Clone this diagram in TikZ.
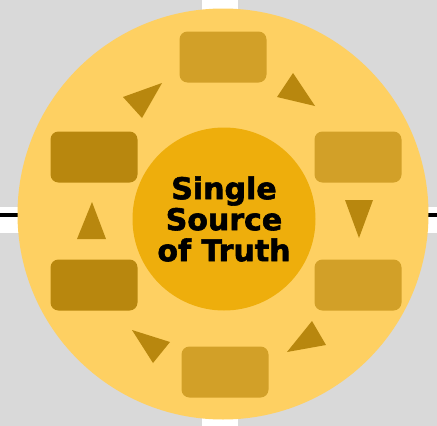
\documentclass[tikz,border=0pt]{standalone}
\usepackage{fontspec}
\setsansfont{DejaVu Sans}
\newfontfamily\heavysans[FakeBold=2]{DejaVu Sans Bold}
\usetikzlibrary{positioning}

\definecolor{bggray}{RGB}{217,217,217}
\definecolor{ringyellow}{RGB}{254,208,98}
\definecolor{coregold}{RGB}{238,174,12}
\definecolor{boxgold}{RGB}{210,160,40}
\definecolor{boxdark}{RGB}{184,135,14}

\tikzset{
	stepbox/.style={rectangle, rounded corners=8pt, minimum width=87pt, minimum height=51pt, inner sep=0pt},
	cyclemark/.style={fill=boxdark}
}

\begin{document}
\begin{tikzpicture}[x=1pt,y=-1pt]
\useasboundingbox (0,0) rectangle (437,426);
\fill[bggray] (0,0) rectangle (437,426);
\fill[white] (202,0) rectangle (238,426);
\fill[white] (0,207) rectangle (437,233);
\coordinate (lineW) at (0,215);
\coordinate (lineE) at (437,215);
\draw[line width=4pt] (lineW) to (lineE);

\node[circle, fill=ringyellow, minimum size=411pt, inner sep=0pt] (ring) at (223,214) {};
\node[circle, fill=coregold, minimum size=183pt, inner sep=0pt, align=center,
	font=\heavysans\fontsize{30}{31}\selectfont] (core) at (224,219) {Single\\Source\\of Truth};

\foreach \name/\x/\y/\col in {top/223/57/boxgold, rightup/358/157/boxgold, rightdown/358/285/boxgold,
	bottom/225/372/boxgold, leftdown/94/285/boxdark, leftup/94/157/boxdark}
	\node[stepbox, fill=\col] (\name) at (\x,\y) {};

\foreach \a/\b/\c in {{293,73}/{315,106}/{277,97}, {345,200}/{373,200}/{359,238}, {312,321}/{326,345}/{287,352},
	{132,330}/{170,342}/{153,363}, {92,202}/{77,239}/{106,239}, {123,97}/{162,83}/{142,118}}
	\fill[cyclemark] (\a) -- (\b) -- (\c) -- cycle;

\end{tikzpicture}
\end{document}
